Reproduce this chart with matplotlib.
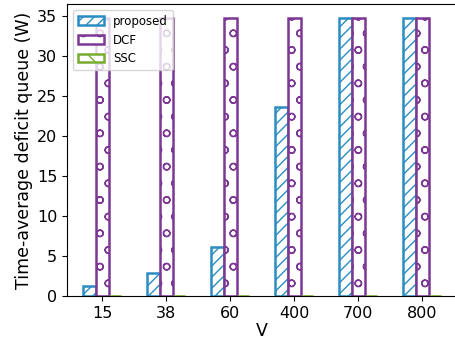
import numpy as np
import matplotlib.pyplot as plt

# average deficit queue for each V setting
V_labels = ['15', '38', '60', '400', '700', '800']
proposed = [1.2, 2.9, 6.1, 23.6, 34.8, 34.8]
dcf = [34.8, 34.8, 34.8, 34.8, 34.8, 34.8]
ssc = [0.05, 0.05, 0.05, 0.05, 0.05, 0.05]

plt.rcParams['hatch.linewidth'] = 1.0

fig = plt.figure(figsize=(4.56, 3.39), dpi=100)
ax = fig.add_axes([0.147, 0.127, 0.856, 0.861])

x = np.arange(len(V_labels))
w = 0.2
ax.bar(x - w, proposed, w, color='white', edgecolor='#2b8cc4', hatch='///',
       linewidth=1.8, label='proposed')
ax.bar(x, dcf, w, color='white', edgecolor='#7d3794', hatch='o',
       linewidth=1.8, label='DCF')
ax.bar(x + w, ssc, w, color='white', edgecolor='#77ac30', hatch='\\\\',
       linewidth=1.8, label='SSC')

ax.set_xticks(x)
ax.set_xticklabels(V_labels)
ax.set_xlim(-0.55, 5.55)
ax.set_ylim(0, 36.5)
ax.tick_params(labelsize=11.5)
ax.set_xlabel('V', fontsize=12.5, labelpad=1)
ax.set_ylabel('Time-average deficit queue (W)', fontsize=12.5, labelpad=3)
ax.legend(loc='upper left', fontsize=8.5, handlelength=2.2)

fig.savefig('out.png', dpi=100)
